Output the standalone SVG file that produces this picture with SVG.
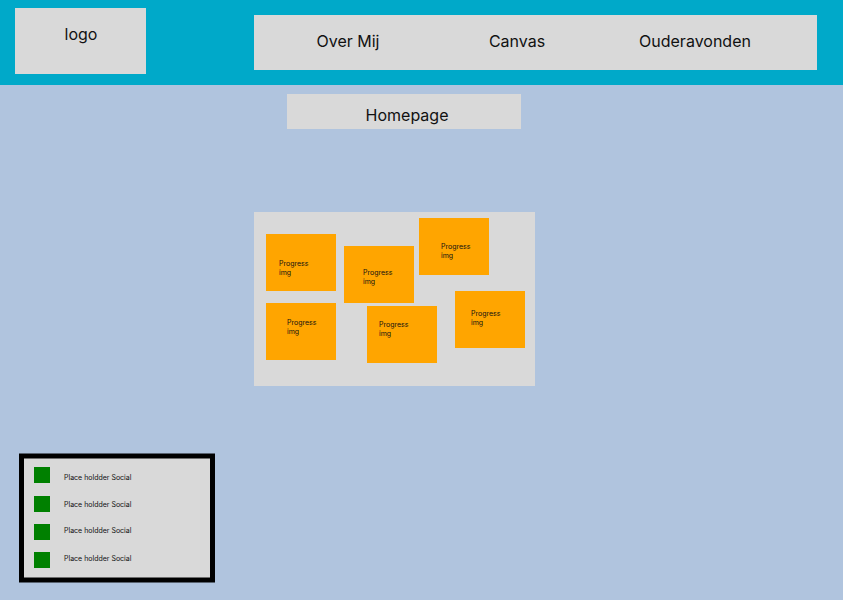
<svg xmlns="http://www.w3.org/2000/svg" width="843" height="600" viewBox="0 0 843 600">
<style>
.bg{fill:#B0C4DE}
.hdr{fill:#00A9C9}
.box{fill:#D9D9D9}
.org{fill:#FFA500}
.grn{fill:#008000}
.t{font-family:Inter,"Liberation Sans",sans-serif;fill:#111}
.big{font-size:16px;text-anchor:middle}
.sm{font-size:7px}
</style>
<rect class="bg" x="0" y="0" width="843" height="600"/>
<rect class="hdr" x="0" y="0" width="843" height="85"/>
<g id="logo">
<rect class="box" x="15" y="8" width="131" height="66"/>
<text class="t big" x="81" y="40">logo</text>
</g>
<g id="nav">
<rect class="box" x="254" y="15" width="563" height="55"/>
<text class="t big" x="348" y="47">Over Mij</text>
<text class="t big" x="517" y="47">Canvas</text>
<text class="t big" x="695" y="47">Ouderavonden</text>
</g>
<g id="homepage">
<rect class="box" x="287" y="94" width="234" height="35"/>
<text class="t big" x="407" y="121">Homepage</text>
</g>
<g id="canvas">
<rect class="box" x="254" y="212" width="281" height="174"/>
</g>
<g id="progress1">
<rect class="org" x="266" y="234" width="70" height="57"/>
<text class="t sm" x="279" y="266">Progress</text>
<text class="t sm" x="279" y="275">img</text>
</g>
<g id="progress2">
<rect class="org" x="344" y="246" width="70" height="57"/>
<text class="t sm" x="363" y="275">Progress</text>
<text class="t sm" x="363" y="284">img</text>
</g>
<g id="progress3">
<rect class="org" x="419" y="218" width="70" height="57"/>
<text class="t sm" x="441" y="249">Progress</text>
<text class="t sm" x="441" y="258">img</text>
</g>
<g id="progress4">
<rect class="org" x="266" y="303" width="70" height="57"/>
<text class="t sm" x="287" y="325">Progress</text>
<text class="t sm" x="287" y="334">img</text>
</g>
<g id="progress5">
<rect class="org" x="367" y="306" width="70" height="57"/>
<text class="t sm" x="379" y="327">Progress</text>
<text class="t sm" x="379" y="336">img</text>
</g>
<g id="progress6">
<rect class="org" x="455" y="291" width="70" height="57"/>
<text class="t sm" x="471" y="316">Progress</text>
<text class="t sm" x="471" y="325">img</text>
</g>
<g id="socials">
<rect class="box" x="21.5" y="456" width="191" height="124" stroke="#000" stroke-width="5"/>
<rect class="grn" x="34" y="467" width="16" height="16"/>
<text class="t sm" x="64" y="480">Place holdder Social</text>
<rect class="grn" x="34" y="496" width="16" height="16"/>
<text class="t sm" x="64" y="507">Place holdder Social</text>
<rect class="grn" x="34" y="524" width="16" height="16"/>
<text class="t sm" x="64" y="533">Place holdder Social</text>
<rect class="grn" x="34" y="552" width="16" height="16"/>
<text class="t sm" x="64" y="561">Place holdder Social</text>
</g>
<g id="connectors"></g>
</svg>
